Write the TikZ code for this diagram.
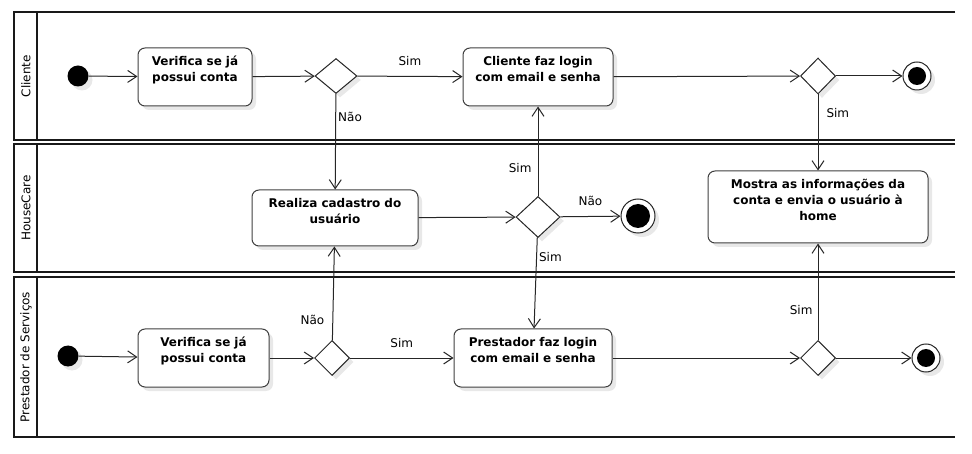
\documentclass[tikz,border=0pt]{standalone}
\usepackage{fontspec}
\setmainfont{DejaVu Sans}
\usetikzlibrary{arrows.meta, shapes.geometric, shadows, positioning}

\tikzset{
  shad/.style={drop shadow={shadow xshift=4pt, shadow yshift=-4pt, fill=black!9, opacity=1}},
  act/.style={draw=black!75, fill=white, rounded corners=7pt, line width=1pt, inner sep=5pt,
    text width=#1, align=center, text height=13pt, text depth=35pt,
    font=\bfseries\fontsize{12}{16}\selectfont, shad},
  choice/.style={diamond, draw=black!85, fill=white, line width=1pt, inner sep=0pt, shad},
  initial/.style={circle, fill=black, inner sep=0pt, minimum size=21pt, shad},
  final/.style={circle, draw=black!85, fill=white, line width=1pt, inner sep=0pt, shad,
    path picture={\fill[black] (path picture bounding box.center) circle (#1);}},
  lbl/.style={font=\fontsize{12}{14}\selectfont, inner sep=2pt},
  lane/.style={-, line width=2pt, black!90},
  lanetitle/.style={rotate=90, font=\fontsize{12}{14}\selectfont}
}

\begin{document}
\begin{tikzpicture}[x=1pt, y=-1pt, ->, >={Straight Barb[length=9pt, width=12pt]}, line width=1pt, draw=black!85]
	\useasboundingbox (0,0) rectangle (972,454);
	% raias
	\draw[lane] (955,12) -- (14,12) -- (14,140) -- (955,140);
	\draw[lane] (37,12) -- (37,140);
	\draw[lane] (955,144) -- (14,144) -- (14,272) -- (955,272);
	\draw[lane] (37,144) -- (37,272);
	\draw[lane] (955,277) -- (14,277) -- (14,437) -- (955,437);
	\draw[lane] (37,277) -- (37,437);
	\node[lanetitle] (tc) at (26,76) {Cliente};
	\node[lanetitle] (th) at (26,208) {HouseCare};
	\node[lanetitle] (tp) at (26,357) {Prestador de Serviços};

	% Cliente
	\node[initial] (c0) at (78,76) {};
	\node[act=104pt] (cv) at (195,77) {Verifica se já\\possui conta};
	\node[choice, minimum width=42pt, minimum height=35pt] (cd1) at (336,76) {};
	\node[act=140pt] (cl) at (538,77) {Cliente faz login\\com email e senha};
	\node[choice, minimum width=35pt, minimum height=36pt] (cd2) at (818,76) {};
	\node[final=9pt, minimum size=28pt] (ce) at (917,76) {};

	% HouseCare
	\node[act=156pt, text depth=33pt] (hc) at (335,218) {Realiza cadastro do\\usuário};
	\node[choice, minimum width=44pt, minimum height=41pt] (hd) at (538,217) {};
	\node[final=12pt, minimum size=34pt] (he) at (638,216) {};
	\node[act=210pt, text depth=49pt] (hm) at (818,207) {Mostra as informações da\\conta e envia o usuário à\\home};

	% Prestador de Servicos
	\node[initial] (p0) at (68,356) {};
	\node[act=121pt] (pv) at (203.5,358) {Verifica se já\\possui conta};
	\node[choice, minimum width=35pt, minimum height=35pt] (pd1) at (332,358) {};
	\node[act=148pt] (pl) at (533,358) {Prestador faz login\\com email e senha};
	\node[choice, minimum width=35pt, minimum height=35pt] (pd2) at (818,358) {};
	\node[final=9pt, minimum size=28pt] (pe) at (926,358) {};

	\draw	(c0) edge (cv)
			(cv) edge (cd1)
			(cd1) edge node[lbl, above=8pt] {Sim} (cl)
			(cd1) edge node[lbl, pos=.24, right] {Não} (hc)
			(cl) edge (cd2)
			(cd2) edge (ce)
			(cd2) edge node[lbl, pos=.25, right=6pt] {Sim} (hm)
			(hc) edge (hd)
			(hd) edge node[lbl, pos=.31, left=4pt] {Sim} (cl)
			(hd) edge node[lbl, above=8pt] {Não} (he)
			(hd) edge node[lbl, pos=.22, right] {Sim} (pl)
			(p0) edge (pv)
			(pv) edge (pd1)
			(pd1) edge node[lbl, pos=.22, left=6pt] {Não} (hc)
			(pd1) edge node[lbl, above=8pt] {Sim} (pl)
			(pl) edge (pd2)
			(pd2) edge (pe)
			(pd2) edge node[lbl, pos=.31, left=3pt] {Sim} (hm)
	;
\end{tikzpicture}
\end{document}
